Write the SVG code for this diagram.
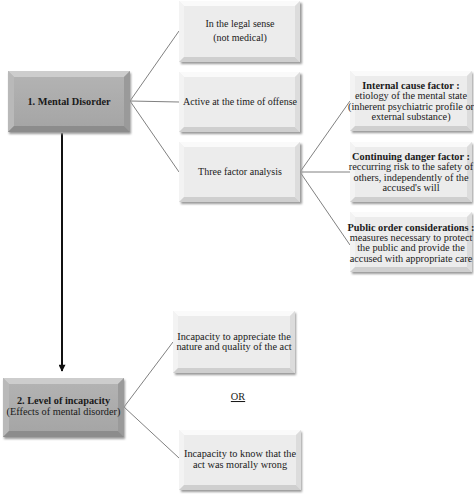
<svg xmlns="http://www.w3.org/2000/svg" width="474" height="495" viewBox="0 0 474 495">
<defs>
<style>
text{font-family:"Liberation Serif","Times New Roman",serif;fill:#1a1a1a;text-anchor:middle}
.t{font-size:10px}
.s{font-size:10.3px}
.h{font-size:10.3px}
.b{font-weight:bold}
.con{stroke:#606060;stroke-width:0.8;fill:none}
.lf{fill:#ececec}
.lt{fill:#fafafa}
.ll{fill:#f3f3f3}
.lr{fill:#dcdcdc}
.lb{fill:#cfcfcf}
.df{fill:url(#dg)}
.dt{fill:#cdcdcd}
.dl{fill:#b9b9b9}
.dr{fill:#9a9a9a}
.db{fill:#8c8c8c}
.sh{fill:#999;filter:url(#blur)}
</style>
<linearGradient id="dg" x1="0" y1="0" x2="0" y2="1">
<stop offset="0" stop-color="#b4b4b4"/>
<stop offset="1" stop-color="#a4a4a4"/>
</linearGradient>
<filter id="blur" x="-10%" y="-10%" width="120%" height="130%"><feGaussianBlur stdDeviation="1.2"/></filter>
<marker id="arr" viewBox="0 0 10 10" refX="9" refY="5" markerWidth="8" markerHeight="7" orient="auto" markerUnits="userSpaceOnUse">
<path d="M0,0 L10,5 L0,10 z" fill="#111"/>
</marker>
</defs>

<g id="connectors">
<path class="con" d="M130,101 L179,31 M130,101 L179,102 M130,101 L179,172"/>
<path class="con" d="M300,172 L350,101 M300,172 L350,172 M300,172 L350,245"/>
<path class="con" d="M124,407 L173,342 M124,407 L179,458"/>
<line x1="62" y1="133" x2="62" y2="371" stroke="#111" stroke-width="2" marker-end="url(#arr)"/>
</g>

<g id="n1">
<rect class="sh" x="9" y="73" width="122" height="61"/>
<rect class="df" x="8" y="71" width="122" height="61"/>
<polygon class="dt" points="8,71 130,71 124,77 14,77"/>
<polygon class="dl" points="8,71 14,77 14,126 8,132"/>
<polygon class="dr" points="130,71 130,132 124,126 124,77"/>
<polygon class="db" points="8,132 14,126 124,126 130,132"/>
<text class="h b" x="69" y="105">1.  Mental Disorder</text>
</g>

<g id="legal">
<rect class="sh" x="181" y="3" width="121" height="61"/>
<rect class="lf" x="179" y="1" width="121" height="61"/>
<polygon class="lt" points="179,1 300,1 295,6 184,6"/>
<polygon class="ll" points="179,1 184,6 184,57 179,62"/>
<polygon class="lr" points="300,1 300,62 295,57 295,6"/>
<polygon class="lb" points="179,62 184,57 295,57 300,62"/>
<text class="t" x="240" y="27">In the legal sense</text>
<text class="t" x="240" y="41">(not medical)</text>
</g>

<g id="active">
<rect class="sh" x="181" y="74" width="121" height="60"/>
<rect class="lf" x="179" y="72" width="121" height="60"/>
<polygon class="lt" points="179,72 300,72 295,77 184,77"/>
<polygon class="ll" points="179,72 184,77 184,127 179,132"/>
<polygon class="lr" points="300,72 300,132 295,127 295,77"/>
<polygon class="lb" points="179,132 184,127 295,127 300,132"/>
<text class="t" x="240" y="105">Active at the time of offense</text>
</g>

<g id="three">
<rect class="sh" x="181" y="144" width="121" height="60"/>
<rect class="lf" x="179" y="142" width="121" height="60"/>
<polygon class="lt" points="179,142 300,142 295,147 184,147"/>
<polygon class="ll" points="179,142 184,147 184,197 179,202"/>
<polygon class="lr" points="300,142 300,202 295,197 295,147"/>
<polygon class="lb" points="179,202 184,197 295,197 300,202"/>
<text class="t" x="240" y="175">Three factor analysis</text>
</g>

<g id="internal">
<rect class="sh" x="352" y="73" width="121" height="60"/>
<rect class="lf" x="350" y="71" width="122" height="60"/>
<polygon class="lt" points="350,71 472,71 467,76 355,76"/>
<polygon class="ll" points="350,71 355,76 355,126 350,131"/>
<polygon class="lr" points="472,71 472,131 467,126 467,76"/>
<polygon class="lb" points="350,131 355,126 467,126 472,131"/>
<text class="s b" x="411" y="89">Internal cause factor :</text>
<text class="s" x="411" y="99.3">etiology of the mental state</text>
<text class="s" x="411" y="109.7">(inherent psychiatric profile or</text>
<text class="s" x="411" y="120">external substance)</text>
</g>

<g id="continuing">
<rect class="sh" x="352" y="144" width="121" height="60"/>
<rect class="lf" x="350" y="142" width="122" height="60"/>
<polygon class="lt" points="350,142 472,142 467,147 355,147"/>
<polygon class="ll" points="350,142 355,147 355,197 350,202"/>
<polygon class="lr" points="472,142 472,202 467,197 467,147"/>
<polygon class="lb" points="350,202 355,197 467,197 472,202"/>
<text class="s b" x="411" y="160">Continuing danger factor :</text>
<text class="s" x="411" y="170.3">reccurring risk to the safety of</text>
<text class="s" x="411" y="180.7">others, independently of the</text>
<text class="s" x="411" y="191">accused's will</text>
</g>

<g id="public">
<rect class="sh" x="352" y="214" width="121" height="60"/>
<rect class="lf" x="350" y="212" width="122" height="60"/>
<polygon class="lt" points="350,212 472,212 467,217 355,217"/>
<polygon class="ll" points="350,212 355,217 355,267 350,272"/>
<polygon class="lr" points="472,212 472,272 467,267 467,217"/>
<polygon class="lb" points="350,272 355,267 467,267 472,272"/>
<text class="s b" x="411" y="230.5">Public order considerations :</text>
<text class="s" x="411" y="240.8">measures necessary to protect</text>
<text class="s" x="411" y="251.2">the public and provide the</text>
<text class="s" x="411" y="261.5">accused with appropriate care</text>
</g>

<g id="n2">
<rect class="sh" x="4" y="380" width="121" height="59"/>
<rect class="df" x="3" y="378" width="121" height="59"/>
<polygon class="dt" points="3,378 124,378 118,384 9,384"/>
<polygon class="dl" points="3,378 9,384 9,431 3,437"/>
<polygon class="dr" points="124,378 124,437 118,431 118,384"/>
<polygon class="db" points="3,437 9,431 118,431 124,437"/>
<text class="h b" x="63.5" y="404">2. Level of incapacity</text>
<text class="h" x="63.5" y="415">(Effects of mental disorder)</text>
</g>

<g id="appreciate">
<rect class="sh" x="175" y="313" width="121" height="62"/>
<rect class="lf" x="173" y="311" width="122" height="62"/>
<polygon class="lt" points="173,311 295,311 290,316 178,316"/>
<polygon class="ll" points="173,311 178,316 178,368 173,373"/>
<polygon class="lr" points="295,311 295,373 290,368 290,316"/>
<polygon class="lb" points="173,373 178,368 290,368 295,373"/>
<text class="h" x="234" y="340">Incapacity to appreciate the</text>
<text class="h" x="234" y="350">nature and quality of the act</text>
</g>

<g id="or">
<text class="h" x="238" y="400" text-decoration="underline">OR</text>
</g>

<g id="know">
<rect class="sh" x="181" y="432" width="121" height="60"/>
<rect class="lf" x="179" y="430" width="122" height="60"/>
<polygon class="lt" points="179,430 301,430 296,435 184,435"/>
<polygon class="ll" points="179,430 184,435 184,485 179,490"/>
<polygon class="lr" points="301,430 301,490 296,485 296,435"/>
<polygon class="lb" points="179,490 184,485 296,485 301,490"/>
<text class="h" x="240" y="457">Incapacity to know that the</text>
<text class="h" x="240" y="468">act was morally wrong</text>
</g>
</svg>
